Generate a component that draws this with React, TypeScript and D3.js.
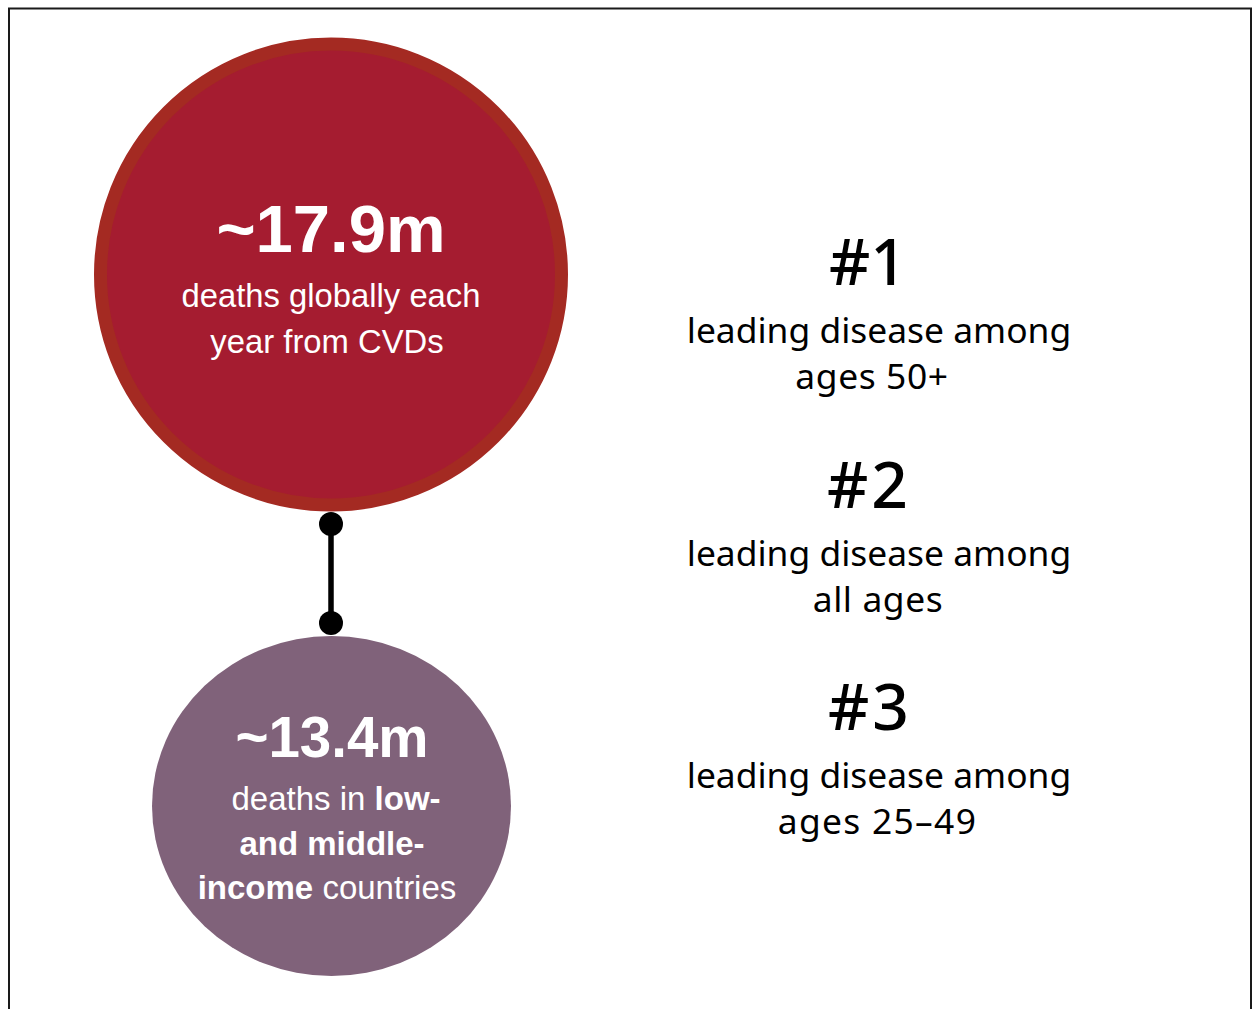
import React from "react";
import * as d3 from "d3";

const W = 1252;
const H = 1009;

// Data
const statValues = ["~17.9m", "~13.4m"];
const statLines: { text: string; bold: boolean }[][][] = [
  [
    [{ text: "deaths globally each", bold: false }],
    [{ text: "year from CVDs", bold: false }],
  ],
  [
    [
      { text: "deaths in ", bold: false },
      { text: "low-", bold: true },
    ],
    [{ text: "and middle-", bold: true }],
    [
      { text: "income", bold: true },
      { text: " countries", bold: false },
    ],
  ],
];
const statLineShift = [
  [0, -4],
  [5, 1, -4],
];
const rankLabels = ["#1", "#2", "#3"];
const rankLine1 = ["leading disease among", "leading disease among", "leading disease among"];
const rankLine2 = ["ages 50+", "all ages", "ages 25–49"];
const rankLine2X = [872, 878, 877.5];
const rankLabelX = [868, 869, 870];

const SANS = "'Liberation Sans', Arial, sans-serif";
const HUMAN = "'Noto Sans', sans-serif";

export default function App() {
  const rankY = d3.scaleLinear().domain([0, 2]).range([285, 730]);
  const cx = 331;

  return (
    <svg
      width={W}
      height={H}
      style={{ position: "absolute", left: 0, top: 0, background: "#fff" }}
    >
      <rect x={9} y={8.5} width={1242} height={1100} fill="#fff" stroke="#1a1a1a" strokeWidth={2} />

      {/* big red circle */}
      <circle cx={cx} cy={274.5} r={230.5} fill="#A51C30" stroke="#A42A22" strokeWidth={13} />
      <text x={cx} y={252} textAnchor="middle" fill="#fff" fontFamily={SANS} fontWeight="bold" fontSize={67}>
        {statValues[0]}
      </text>
      {statLines[0].map((line, i) => (
        <text key={i} x={cx + statLineShift[0][i]} y={307 + i * 46} textAnchor="middle" fill="#fff" fontFamily={SANS} fontSize={32.8}>
          {line.map((s, j) => (
            <tspan key={j} fontWeight={s.bold ? "bold" : "normal"}>{s.text}</tspan>
          ))}
        </text>
      ))}

      {/* connector */}
      <line x1={cx} y1={524} x2={cx} y2={623} stroke="#000" strokeWidth={5.5} />
      <circle cx={cx} cy={524} r={12} fill="#000" />
      <circle cx={cx} cy={623} r={12} fill="#000" />

      {/* purple ellipse */}
      <ellipse cx={331.5} cy={806} rx={179.5} ry={170} fill="#80627A" />
      <text x={cx + 1} y={757} textAnchor="middle" fill="#fff" fontFamily={SANS} fontWeight="bold" fontSize={56.5}>
        {statValues[1]}
      </text>
      {statLines[1].map((line, i) => (
        <text key={i} x={cx + statLineShift[1][i]} y={810 + i * 44.5} textAnchor="middle" fill="#fff" fontFamily={SANS} fontSize={33}>
          {line.map((s, j) => (
            <tspan key={j} fontWeight={s.bold ? "bold" : "normal"}>{s.text}</tspan>
          ))}
        </text>
      ))}

      {/* rankings */}
      {rankLabels.map((lab, i) => {
        const y = rankY(i);
        return (
          <g key={i}>
            <text x={rankLabelX[i]} y={y} textAnchor="middle" fill="#000" fontFamily={HUMAN} fontSize={64} fontWeight={500} letterSpacing={i === 0 ? 0 : 3}>
              {lab}
            </text>
            <text x={879} y={y + 58} textAnchor="middle" fill="#000" fontFamily={HUMAN} fontSize={35.4}>
              {rankLine1[i]}
            </text>
            <text x={rankLine2X[i]} y={y + 104} textAnchor="middle" fill="#000" fontFamily={HUMAN} fontSize={35.4} letterSpacing={i === 2 ? 1.3 : 0.6}>
              {rankLine2[i]}
            </text>
          </g>
        );
      })}
    </svg>
  );
}
